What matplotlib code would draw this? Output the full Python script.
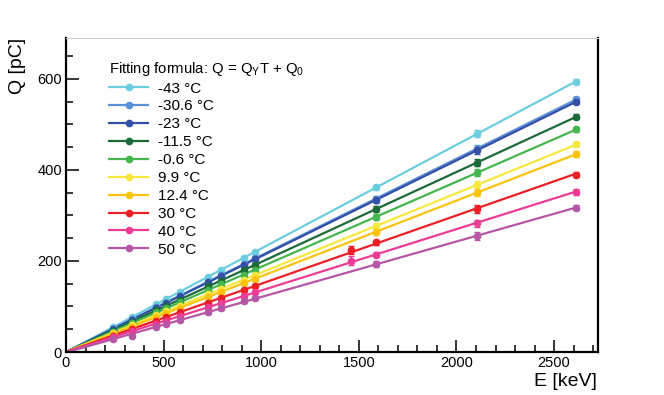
import numpy as np
import matplotlib
matplotlib.use("Agg")
import matplotlib.pyplot as plt
from matplotlib.lines import Line2D
from matplotlib.ticker import MultipleLocator

plt.rcParams['font.family'] = ['Liberation Sans', 'DejaVu Sans']

# gamma line energies (keV)
energies = [239, 338, 463, 511, 583, 727, 795, 911, 969, 1588, 2104, 2614]
energies_k40 = [239, 338, 463, 511, 583, 727, 795, 911, 969, 1460, 1588, 2104, 2614]
errs = [2, 3, 3, 3, 3, 4, 4, 4, 4, 6, 8, 6]
errs_k40 = [2, 3, 3, 3, 3, 4, 4, 4, 4, 9, 6, 8, 6]

labels = ["-43 °C", "-30.6 °C", "-23 °C", "-11.5 °C", "-0.6 °C",
          "9.9 °C", "12.4 °C", "30 °C", "40 °C", "50 °C"]
colors = ["#6ccde0", "#5a90d8", "#3350a6", "#1b6a38", "#45b64d",
          "#f7e840", "#fcc30e", "#ec1f26", "#eb3d96", "#b656a6"]

q_m43 = [54, 77, 105, 116, 132, 165, 181, 207, 220, 362, 480, 594]
q_m30 = [51, 72, 98, 108, 124, 154, 169, 193, 206, 337, 447, 555]
q_m23 = [50, 71, 97, 108, 123, 153, 167, 192, 204, 334, 443, 550]
q_m11 = [47, 67, 92, 101, 115, 144, 157, 180, 192, 314, 416, 517]
q_m06 = [45, 63, 87, 96, 109, 136, 149, 170, 181, 297, 394, 489]
q_99 = [42, 59, 81, 89, 102, 127, 139, 159, 169, 277, 367, 456]
q_124 = [40, 56, 77, 85, 97, 121, 132, 152, 161, 264, 350, 435]
q_30 = [36, 50, 69, 76, 87, 108, 119, 136, 145, 224, 241, 314, 390]
q_40 = [32, 46, 62, 69, 79, 98, 107, 123, 131, 201, 214, 283, 352]
q_50 = [29, 35, 56, 62, 71, 88, 96, 111, 118, 193, 255, 317]

series = [q_m43, q_m30, q_m23, q_m11, q_m06, q_99, q_124, q_30, q_40, q_50]

fig = plt.figure(figsize=(6.64, 3.95), dpi=100)
ax = fig.add_axes([66/664, 43/395, 532/664, 314/395])

for q, c in zip(series, colors):
    if len(q) == len(energies_k40):
        e, er = energies_k40, errs_k40
    else:
        e, er = energies, errs
    e = np.array(e, dtype=float)
    q = np.array(q, dtype=float)
    slope, off = np.polyfit(e, q, 1)
    xf = np.array([0, e.max()])
    ax.plot(xf, slope * xf + off, color=c, lw=1.6, zorder=2)
    ax.errorbar(e, q, yerr=er, fmt='o', color=c, ms=4.5, elinewidth=1.2,
                capsize=2, zorder=3)

ax.set_xlim(0, 2725)
ax.set_ylim(0, 690)
ax.xaxis.set_major_locator(MultipleLocator(500))
ax.xaxis.set_minor_locator(MultipleLocator(100))
ax.yaxis.set_major_locator(MultipleLocator(200))
ax.yaxis.set_minor_locator(MultipleLocator(50))
ax.tick_params(which='both', direction='in', top=False, right=False,
               labelsize=10.5, width=1.1, pad=3)
ax.tick_params(which='major', length=9)
ax.tick_params(which='minor', length=5)
for s in ['left', 'bottom', 'right']:
    ax.spines[s].set_linewidth(1.6)
ax.spines['top'].set_color('#cccccc')
ax.spines['top'].set_linewidth(0.8)

fig.text(597/664, 1 - 382/395, "E [keV]", ha='right', va='center', fontsize=14)
fig.text(17/664, 1 - 38/395, "Q [pC]", ha='center', va='top', fontsize=14,
         rotation=90)

handles = [Line2D([], [], color=c, lw=1.6, alpha=0.6, marker='o', ms=4.5,
                  markerfacecolor=c, markeredgecolor=c)
           for c in colors]
leg = ax.legend(handles, labels,
                title=r"Fitting formula: Q = Q$_\mathregular{Y}$T + Q$_\mathregular{0}$",
                title_fontsize=10.7, fontsize=11, frameon=False,
                loc='upper left', bbox_to_anchor=(98/664, 1 - 49/395),
                bbox_transform=fig.transFigure, alignment='left',
                handlelength=2.6, handletextpad=0.6, labelspacing=0.255,
                borderpad=0.2)
leg._legend_box._children[0].sep = 4
for h in leg.legend_handles:
    h.set_alpha(None)

fig.savefig("out.png", dpi=100)
